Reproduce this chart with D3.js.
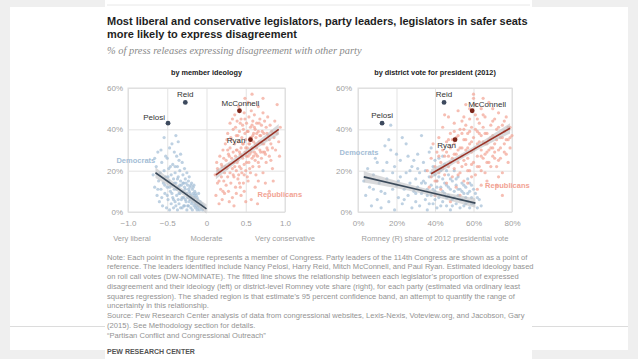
<!DOCTYPE html>
<html><head><meta charset="utf-8">
<script src="https://cdn.jsdelivr.net/npm/d3@7"></script>
<style>body{margin:0;background:#efefef;}svg{display:block;font-family:"Liberation Sans",Arial,sans-serif;}</style>
</head><body>
<svg id="c" width="638" height="359"></svg>
<script>
// ---------- DATA ----------
const titleLines = ["Most liberal and conservative legislators, party leaders, legislators in safer seats","more likely to express disagreement"];
const subtitle = "% of press releases expressing disagreement with other party";
const panelTitles = ["by member ideology","by district vote for president (2012)"];
const yTicks = [0,20,40,60];
const xTicksLeft = [-1,-0.5,0,0.5,1];
const xTicksRight = [0,20,40,60,80];
const ideologyLabels = [["Very liberal",-0.95],["Moderate",0],["Very conservative",1]];
const rightAxisTitle = "Romney (R) share of 2012 presidential vote";

const demLeft = [[-0.68,18],[-0.66,12],[-0.64,22],[-0.63,8],[-0.62,29],[-0.61,15],[-0.6,5],[-0.59,19],[-0.58,30],[-0.58,11],[-0.57,24],[-0.56,3],[-0.55,14],[-0.54,36],[-0.54,20],[-0.53,9],[-0.52,17],[-0.51,2],[-0.5,26],[-0.5,12],[-0.49,6],[-0.48,21],[-0.48,15],[-0.47,31],[-0.47,1],[-0.46,10],[-0.45,18],[-0.45,4],[-0.44,13],[-0.43,23],[-0.43,7],[-0.42,16],[-0.42,2],[-0.41,11],[-0.4,19],[-0.4,5],[-0.39,37],[-0.39,14],[-0.38,27],[-0.38,8],[-0.37,22],[-0.37,1],[-0.36,17],[-0.36,12],[-0.35,25],[-0.35,4],[-0.34,20],[-0.34,9],[-0.33,28],[-0.33,15],[-0.32,6],[-0.32,13],[-0.31,24],[-0.31,2],[-0.3,18],[-0.3,10],[-0.29,7],[-0.29,14],[-0.28,21],[-0.28,3],[-0.27,11],[-0.27,16],[-0.26,5],[-0.26,9],[-0.25,19],[-0.25,1],[-0.24,13],[-0.24,7],[-0.23,15],[-0.23,3],[-0.22,10],[-0.22,17],[-0.21,6],[-0.21,12],[-0.2,2],[-0.2,8],[-0.19,14],[-0.19,4],[-0.18,11],[-0.18,1],[-0.17,9],[-0.17,6],[-0.16,13],[-0.16,3],[-0.15,7],[-0.15,10],[-0.14,2],[-0.14,5],[-0.13,8],[-0.12,1],[-0.12,4],[-0.11,6],[-0.1,3],[-0.1,9],[-0.09,1],[-0.08,5],[-0.07,2],[-0.06,4],[-0.05,1],[-0.04,3],[-0.44,33],[-0.52,27],[-0.66,26],[-0.41,29],[-0.36,34],
[-0.44,9],[-0.42,6],[-0.41,14],[-0.39,3],[-0.38,11],[-0.37,16],[-0.36,6],[-0.35,9],[-0.34,13],[-0.33,2],[-0.32,10],[-0.31,7],[-0.3,14],[-0.29,3],[-0.28,12],[-0.27,6],[-0.26,14],[-0.25,9],[-0.24,3],[-0.23,11],[-0.22,5],[-0.21,9],[-0.2,13],[-0.19,7],[-0.18,5],[-0.17,12],[-0.16,8],[-0.15,4],[-0.14,9],[-0.13,3],[-0.12,7],[-0.11,2],[-0.49,17],[-0.46,22],[-0.53,13],[-0.57,7],[-0.62,11],[-0.5,8],[-0.47,12],[-0.4,22]];
const repLeft = [[0.11,18],[0.12,8],[0.13,24],[0.14,14],[0.15,20],[0.16,4],[0.17,27],[0.18,11],[0.19,17],[0.2,22],[0.2,6],[0.21,30],[0.22,15],[0.23,19],[0.23,9],[0.24,33],[0.25,25],[0.25,13],[0.26,21],[0.27,38],[0.27,17],[0.28,28],[0.28,10],[0.29,23],[0.3,43],[0.3,31],[0.3,19],[0.31,14],[0.32,35],[0.32,26],[0.33,21],[0.33,7],[0.34,40],[0.34,29],[0.35,17],[0.35,24],[0.36,47],[0.36,33],[0.37,12],[0.37,27],[0.38,37],[0.38,20],[0.39,30],[0.39,44],[0.4,25],[0.4,16],[0.41,34],[0.41,51],[0.42,22],[0.42,39],[0.43,28],[0.43,12],[0.44,45],[0.44,31],[0.45,19],[0.45,36],[0.46,26],[0.46,42],[0.47,33],[0.47,14],[0.48,48],[0.48,23],[0.49,38],[0.49,29],[0.5,5],[0.5,35],[0.5,20],[0.51,43],[0.51,27],[0.52,31],[0.52,17],[0.53,53],[0.53,39],[0.54,24],[0.54,46],[0.55,33],[0.55,28],[0.56,41],[0.56,19],[0.57,36],[0.57,49],[0.58,26],[0.58,31],[0.59,44],[0.59,22],[0.6,38],[0.6,34],[0.61,29],[0.61,47],[0.62,25],[0.62,40],[0.63,36],[0.63,18],[0.64,43],[0.64,31],[0.65,4],[0.65,27],[0.66,39],[0.66,51],[0.67,34],[0.67,22],[0.68,45],[0.68,30],[0.69,37],[0.7,26],[0.7,42],[0.71,33],[0.72,48],[0.72,19],[0.73,38],[0.74,29],[0.74,44],[0.75,35],[0.76,24],[0.76,41],[0.77,31],[0.78,46],[0.79,37],[0.8,27],[0.8,10],[0.81,42],[0.82,33],[0.83,39],[0.84,21],[0.85,15],[0.86,36],[0.87,44],[0.88,30],[0.9,52],[0.9,38],[0.92,34],[0.93,27],[0.94,41],[0.58,57],[0.49,55],[0.26,35],[0.21,10],[0.44,8],[0.35,3],[0.62,12],[0.57,6],[0.72,55],[0.41,18],
[0.31,36],[0.33,45],[0.34,18],[0.36,22],[0.37,41],[0.38,30],[0.39,24],[0.4,37],[0.42,29],[0.43,43],[0.44,21],[0.45,27],[0.46,33],[0.47,40],[0.48,18],[0.49,45],[0.5,31],[0.51,24],[0.52,39],[0.53,27],[0.54,33],[0.55,21],[0.56,36],[0.57,29],[0.58,42],[0.59,37],[0.6,27],[0.61,41],[0.62,33],[0.63,28],[0.64,38],[0.65,33],[0.66,24],[0.67,43],[0.68,37],[0.69,29],[0.7,34],[0.71,39],[0.72,29],[0.73,33],[0.75,28],[0.77,38],[0.78,30],[0.8,35],[0.82,25],[0.84,31],[0.29,27],[0.27,30],[0.24,22],[0.22,26],[0.19,23],[0.16,15],[0.14,21],[0.42,14],[0.53,15],[0.48,10],[0.66,15],[0.75,14],[0.38,9],[0.29,5]];
const demRight = [[3,15],[4,8],[5,21],[6,12],[7,3],[8,18],[9,26],[10,6],[11,14],[12,2],[13,20],[14,32],[14,9],[15,16],[16,5],[17,42],[17,30],[18,11],[19,22],[19,1],[20,13],[21,7],[22,25],[22,17],[23,36],[23,4],[24,11],[25,19],[26,8],[26,27],[27,14],[28,2],[28,22],[29,10],[30,16],[30,5],[31,28],[31,12],[32,19],[32,3],[33,37],[33,9],[34,15],[34,24],[35,6],[35,20],[36,11],[36,1],[37,17],[37,29],[38,8],[38,13],[39,22],[39,4],[40,10],[40,18],[41,15],[41,2],[42,26],[42,7],[43,12],[43,20],[44,5],[44,16],[45,9],[45,23],[46,3],[46,13],[47,18],[47,8],[48,11],[48,1],[49,15],[49,6],[50,20],[50,10],[51,4],[51,13],[52,8],[52,17],[53,2],[53,11],[54,6],[54,14],[55,9],[55,3],[56,12],[56,7],[57,5],[57,16],[58,10],[58,2],[59,7],[59,13],[60,4],[61,9],[62,2],[63,6],[64,3],[38,31],[25,33],[44,27],[20,28],[10,24],[16,35],
[35,14],[36,8],[37,4],[38,19],[39,11],[40,6],[41,12],[42,17],[43,3],[44,10],[45,14],[46,7],[47,12],[48,16],[49,3],[50,7],[51,16],[52,11],[53,6],[54,10],[55,13],[56,4],[57,9],[58,14],[59,4],[60,11],[30,9],[33,14],[27,20],[24,6],[29,25],[21,15],[18,19],[12,10],[8,11],[15,24],[62,7],[31,21],[46,20],[40,25]];
const repRight = [[36,20],[37,12],[38,26],[38,17],[39,33],[40,8],[40,22],[41,29],[41,15],[42,36],[42,19],[43,24],[43,11],[44,41],[44,30],[45,18],[45,27],[46,34],[46,14],[47,46],[47,22],[48,31],[48,38],[49,17],[49,26],[50,43],[50,21],[50,33],[51,28],[51,12],[52,37],[52,49],[52,24],[53,31],[53,19],[54,44],[54,27],[55,35],[55,15],[55,40],[56,23],[56,52],[56,30],[57,38],[57,26],[58,45],[58,33],[58,20],[59,29],[59,41],[60,36],[60,24],[60,55],[61,31],[61,18],[61,47],[62,39],[62,27],[63,34],[63,43],[63,22],[64,30],[64,50],[64,37],[65,26],[65,41],[66,33],[66,19],[66,46],[67,29],[67,38],[68,35],[68,24],[68,53],[69,42],[69,31],[70,27],[70,37],[71,45],[71,33],[72,22],[72,40],[73,30],[73,48],[74,36],[74,26],[75,42],[75,19],[76,33],[76,39],[77,28],[77,46],[78,35],[78,24],[79,41],[79,31],[80,37],[57,14],[62,11],[67,15],[72,13],[75,8],[53,8],[48,5],[60,57],[65,55],[58,50],[45,47],[70,50],[54,38],[59,34],[62,45],[66,28],[56,42],[64,20],[69,22],[50,39],[47,35],[71,26],[73,17],
[46,29],[47,27],[48,24],[49,35],[50,28],[51,36],[52,30],[53,40],[54,31],[55,25],[56,35],[57,31],[58,39],[59,23],[60,30],[61,40],[62,33],[63,38],[64,27],[65,34],[66,38],[67,24],[68,30],[69,36],[70,31],[71,29],[72,35],[73,41],[74,31],[75,36],[76,29],[77,35],[78,41],[79,36],[62,22],[57,20],[52,18],[44,21],[42,27],[40,15],[65,47],[70,44],[61,52],[55,46],[67,33],[73,25],[76,44],[59,17],[64,13],[54,22]];

// fitted lines with confidence band: [x, low, fit, high]
const demFitLeft = [[-0.65,16.4,19,21.6],[-0.33,9.5,10.5,11.5],[0,-0.8,1.5,3.8]];
const repFitLeft = [[0.12,15.8,18,20.2],[0.52,28.2,29,29.8],[0.92,37.4,40,42.6]];
const demFitRight = [[3,14.3,17,19.7],[32,9.7,10.6,11.5],[61,2.0,4.3,6.6]];
const repFitRight = [[38,16.3,18.5,20.7],[58,28.4,29.2,30.0],[79,38.0,40.5,43.0]];

const leadersLeft = [["Reid",-0.27,53,"D"],["Pelosi",-0.49,43,"D"],["McConnell",0.42,49,"R"],["Ryan",0.56,35,"R"]];
const leadersRight = [["Reid",44.7,53,"D"],["Pelosi",12.5,43,"D"],["McConnell",59.3,49,"R"],["Ryan",50.4,35,"R"]];

const noteLines = [
"Note: Each point in the figure represents a member of Congress. Party leaders of the 114th Congress are shown as a point of",
"reference. The leaders identified include Nancy Pelosi, Harry Reid, Mitch McConnell, and Paul Ryan. Estimated ideology based",
"on roll call votes (DW-NOMINATE). The fitted line shows the relationship between each legislator\u2019s proportion of expressed",
"disagreement and their ideology (left) or district-level Romney vote share (right), for each party (estimated via ordinary least",
"squares regression). The shaded region is that estimate\u2019s 95 percent confidence band, an attempt to quantify the range of",
"uncertainty in this relationship.",
"Source: Pew Research Center analysis of data from congressional websites, Lexis-Nexis, Voteview.org, and Jacobson, Gary",
"(2015). See Methodology section for details.",
"\u201cPartisan Conflict and Congressional Outreach\u201d"];
const sourceOrg = "PEW RESEARCH CENTER";

// ---------- DRAW ----------
const svg = d3.select("#c");
const COL = {dem:"#a3bdd6", rep:"#f2a293", demLine:"#3b4a5a", repLine:"#9a3428", demLead:"#3d4a5e", repLead:"#7b2519", band:"#bfc2c5"};

// slide frame
svg.append("rect").attr("width",638).attr("height",359).attr("fill","#efefef");
svg.append("rect").attr("x",10).attr("y",7).attr("width",618).attr("height",343).attr("fill","#fff");
svg.append("rect").attr("x",105).attr("y",0).attr("width",427).attr("height",359).attr("fill","#fff");
svg.append("line").attr("x1",107).attr("x2",530).attr("y1",5).attr("y2",5).attr("stroke","#e8e8e8");
[[10,105],[532,628]].forEach(s=>svg.append("line").attr("x1",s[0]).attr("x2",s[1]).attr("y1",326.5).attr("y2",326.5).attr("stroke","#dcdcdc"));

function fit(sel, target){
  const w = sel.node().getComputedTextLength();
  const fs = parseFloat(sel.attr("font-size"));
  sel.attr("font-size", fs*target/w);
  return fs*target/w;
}

// title
const t1 = svg.append("text").attr("x",107).attr("y",24.5).attr("font-weight","bold").attr("font-size",12).attr("fill","#1e1e1e").text(titleLines[0]);
const tfs = fit(t1,421);
svg.append("text").attr("x",107).attr("y",37.5).attr("font-weight","bold").attr("font-size",tfs).attr("fill","#1e1e1e").text(titleLines[1]);
const st = svg.append("text").attr("x",107).attr("y",54).attr("font-style","italic").attr("font-family","'Liberation Serif',serif").attr("font-size",10).attr("fill","#8a8a8a").text(subtitle);
fit(st,255);

const y = d3.scaleLinear().domain([0,60]).range([212,88]);
const xL = d3.scaleLinear().domain([-1,1]).range([128,285]);
const xR = d3.scaleLinear().domain([0,80]).range([358,512]);

function panel(x, xTicks, xFmt, dem, rep, demFit, repFit, leaders, title, ypad){
  const g = svg.append("g");
  const [x0,x1] = x.range();
  g.append("text").attr("x",(x0+x1)/2).attr("y",75).attr("text-anchor","middle").attr("font-weight","bold").attr("font-size",7.3).attr("fill","#222").text(title);
  // gridlines
  g.append("g").attr("transform",`translate(0,212)`).call(d3.axisBottom(x).tickValues(xTicks).tickSize(-124).tickFormat(""))
    .call(a=>{a.select(".domain").remove(); a.selectAll("line").attr("stroke","#e3e3e3");});
  g.append("g").attr("transform",`translate(${x0},0)`).call(d3.axisLeft(y).tickValues(yTicks).tickSize(-(x1-x0)).tickFormat(""))
    .call(a=>{a.select(".domain").remove(); a.selectAll("line").attr("stroke","#e3e3e3");});
  g.append("rect").attr("x",x0).attr("y",88).attr("width",x1-x0).attr("height",124).attr("fill","none").attr("stroke","#dedede");
  // tick labels
  g.append("g").attr("transform",`translate(0,212)`).call(d3.axisBottom(x).tickValues(xTicks).tickSize(0).tickPadding(8).tickFormat(xFmt))
    .call(a=>{a.select(".domain").remove(); a.selectAll("text").attr("font-size",8).attr("fill","#a0a0a0").attr("font-family","'Liberation Sans',Arial,sans-serif");});
  g.append("g").attr("transform",`translate(${x0},0)`).call(d3.axisLeft(y).tickValues(yTicks).tickSize(0).tickPadding(ypad).tickFormat(d=>d+"%"))
    .call(a=>{a.select(".domain").remove(); a.selectAll("text").attr("font-size",8).attr("fill","#a0a0a0").attr("font-family","'Liberation Sans',Arial,sans-serif");});
  // points
  g.append("g").selectAll("circle").data(dem).join("circle").attr("cx",d=>x(d[0])).attr("cy",d=>y(d[1])).attr("r",1.6).attr("fill",COL.dem).attr("fill-opacity",0.7);
  g.append("g").selectAll("circle").data(rep).join("circle").attr("cx",d=>x(d[0])).attr("cy",d=>y(d[1])).attr("r",1.6).attr("fill",COL.rep).attr("fill-opacity",0.7);
  // bands and fits
  [[demFit,COL.demLine],[repFit,COL.repLine]].forEach(([f,c])=>{
    g.append("path").datum(f).attr("d",d3.area().curve(d3.curveBasis).x(d=>x(d[0])).y0(d=>y(d[1])).y1(d=>y(d[3]))).attr("fill",COL.band).attr("fill-opacity",0.6);
    g.append("path").datum(f).attr("d",d3.line().x(d=>x(d[0])).y(d=>y(d[2]))).attr("fill","none").attr("stroke",c).attr("stroke-width",1.6);
  });
  // leaders
  g.append("g").selectAll("circle").data(leaders).join("circle").attr("cx",d=>x(d[1])).attr("cy",d=>y(d[2])).attr("r",2.4).attr("fill",d=>d[3]==="D"?COL.demLead:COL.repLead);
  return g;
}

const gl = panel(xL, xTicksLeft, d=>d===0?"0":d3.format(".1f")(d), demLeft, repLeft, demFitLeft, repFitLeft, leadersLeft, panelTitles[0], 5);
const gr = panel(xR, xTicksRight, d=>d+"%", demRight, repRight, demFitRight, repFitRight, leadersRight, panelTitles[1], 6);

function lab(g, x, d, dx, dy, anchor){
  g.append("text").attr("x",x(d[1])+dx).attr("y",y(d[2])+dy).attr("text-anchor",anchor).attr("font-size",8).attr("fill","#333").text(d[0]);
}
// left leader labels
lab(gl,xL,leadersLeft[0],0,-5,"middle");
lab(gl,xL,leadersLeft[1],-3,-3.5,"end");
lab(gl,xL,leadersLeft[2],1,-4.5,"middle");
lab(gl,xL,leadersLeft[3],-5,3,"end");
// right leader labels
lab(gr,xR,leadersRight[0],0,-5,"middle");
lab(gr,xR,leadersRight[1],0,-5,"middle");
lab(gr,xR,leadersRight[2],-4,-4,"start");
lab(gr,xR,leadersRight[3],1,8,"end");

// party labels
function plab(g, px, py, txt, c, anchor){
  g.append("text").attr("x",px).attr("y",py).attr("text-anchor",anchor).attr("font-weight","bold").attr("font-size",7.5).attr("fill",c).text(txt);
}
plab(gl, xL(-0.9), y(25)+3, "Democrats", COL.dem, "middle");
plab(gl, xL(0.65), y(8.5)+3, "Republicans", COL.rep, "start");
plab(gr, xR(0.5), y(29)+3, "Democrats", COL.dem, "middle");
plab(gr, xR(66), y(13)+3, "Republicans", COL.rep, "start");

// axis descriptions
ideologyLabels.forEach(d=>svg.append("text").attr("x",xL(d[1])).attr("y",240.5).attr("text-anchor","middle").attr("font-size",7.6).attr("fill","#a0a0a0").text(d[0]));
svg.append("text").attr("x",(xR.range()[0]+xR.range()[1])/2).attr("y",240.5).attr("text-anchor","middle").attr("font-size",7.6).attr("fill","#a0a0a0").text(rightAxisTitle);

// notes
const n0 = svg.append("text").attr("x",107).attr("y",259.5).attr("font-size",7).attr("fill","#939393").text(noteLines[0]);
const nfs = fit(n0,421);
noteLines.slice(1).forEach((l,i)=>svg.append("text").attr("x",107).attr("y",259.5+(i+1)*9.75).attr("font-size",nfs).attr("fill","#939393").text(l));
svg.append("text").attr("x",107).attr("y",354).attr("font-size",7).attr("font-weight","bold").attr("fill","#555").text(sourceOrg);
</script>
</body></html>
